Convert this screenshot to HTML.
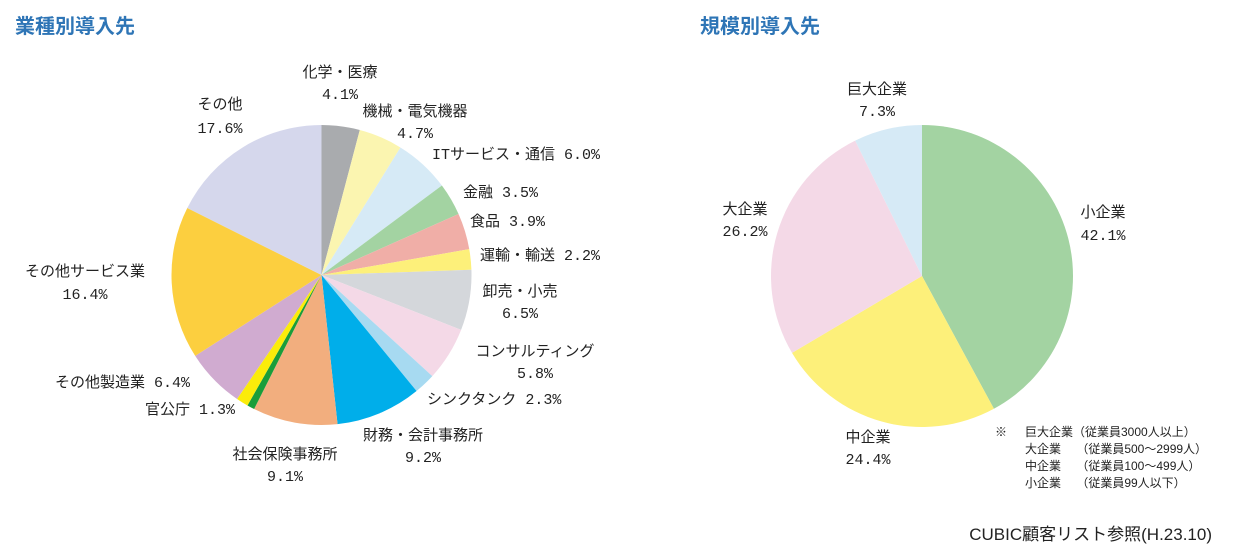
<!DOCTYPE html>
<html><head><meta charset="utf-8">
<style>
body{margin:0;background:#fff;}
svg{display:block;font-family:"Liberation Sans","Noto Sans CJK JP",sans-serif;}
.lb{font-size:15px;fill:#222;dominant-baseline:middle;font-family:"Liberation Mono","Noto Sans CJK JP",monospace;}
.tt{font-size:20px;font-weight:bold;fill:#2e75b6;}
.nt{font-size:12px;fill:#222;dominant-baseline:middle;}
</style></head>
<body>
<svg id="c" width="1240" height="553" viewBox="0 0 1240 553">
<text x="15" y="33" class="tt">業種別導入先</text>
<text x="700" y="33" class="tt">規模別導入先</text>
<g id="p1"></g>
<g id="p2"></g>
<g id="labels"></g>
<text x="995" y="433" class="nt">※</text>
<g>
<text x="1025" y="433" class="nt">巨大企業（従業員3000人以上）</text>
<text x="1025" y="450" class="nt">大企業　 （従業員500～2999人）</text>
<text x="1025" y="467" class="nt">中企業　 （従業員100～499人）</text>
<text x="1025" y="484" class="nt">小企業　 （従業員99人以下）</text>
</g>
<text x="1212" y="540" text-anchor="end" style="font-size:17px;fill:#222">CUBIC顧客リスト参照(H.23.10)</text>
</svg>
<script>
const industryCats=["化学・医療","機械・電気機器","ITサービス・通信","金融","食品","運輸・輸送","卸売・小売","コンサルティング","シンクタンク","財務・会計事務所","社会保険事務所","その他(緑)","官公庁","その他製造業","その他サービス業","その他"];
const industryVals=[4.1,4.7,6.0,3.5,3.9,2.2,6.5,5.8,2.3,9.2,9.1,0.8,1.3,6.4,16.4,17.6];
const industryColors=["#a9abae","#fbf5b0","#d6eaf6","#a3d3a2","#f0aea7","#fdf07a","#d4d7db","#f4d9e7","#a7daf1","#00aeea","#f2ae7e","#1a9d3a","#fbec0a","#d0abd0","#fccf3f","#d5d7ec"];
const sizeCats=["小企業","中企業","大企業","巨大企業"];
const sizeVals=[42.1,24.4,26.2,7.3];
const sizeColors=["#a3d3a2","#fdf07a","#f4d9e7","#d6eaf6"];
const NS="http://www.w3.org/2000/svg";
function drawPie(g,vals,cols,cats,cx,cy,r){
  const tot=vals.reduce((a,b)=>a+b,0);
  let a=0;
  vals.forEach((v,i)=>{
    const a0=a/tot*2*Math.PI, a1=(a+v)/tot*2*Math.PI; a+=v;
    const x0=cx+r*Math.sin(a0),y0=cy-r*Math.cos(a0),x1=cx+r*Math.sin(a1),y1=cy-r*Math.cos(a1);
    const p=document.createElementNS(NS,"path");
    p.setAttribute("d",`M${cx},${cy}L${x0},${y0}A${r},${r} 0 ${a1-a0>Math.PI?1:0} 1 ${x1},${y1}Z`);
    p.setAttribute("fill",cols[i]);
    
    
    g.appendChild(p);
  });
}
drawPie(document.getElementById("p1"),industryVals,industryColors,industryCats,321.5,275,150);
drawPie(document.getElementById("p2"),sizeVals,sizeColors,sizeCats,922,276,151);
const L=document.getElementById("labels");
function lab(t,x,y,anchor){
  const e=document.createElementNS(NS,"text");
  e.setAttribute("x",x);e.setAttribute("y",y);e.setAttribute("class","lb");
  e.setAttribute("text-anchor",anchor||"middle");
  e.textContent=t;
  
  
  L.appendChild(e);
}
const f=v=>v.toFixed(1)+"%";
const iv=industryVals;
lab("その他",220,105);lab(f(iv[15]),220,129);
lab("化学・医療",340,73);lab(f(iv[0]),340,95);
lab("機械・電気機器",415,112);lab(f(iv[1]),415,134);
lab("ITサービス・通信 "+f(iv[2]),432,155,"start");
lab("金融 "+f(iv[3]),463,193,"start");
lab("食品 "+f(iv[4]),470,222,"start");
lab("運輸・輸送 "+f(iv[5]),480,256,"start");
lab("卸売・小売",520,292);lab(f(iv[6]),520,314);
lab("コンサルティング",535,352);lab(f(iv[7]),535,374);
lab("シンクタンク "+f(iv[8]),427,400,"start");
lab("財務・会計事務所",423,436);lab(f(iv[9]),423,458);
lab("社会保険事務所",285,455);lab(f(iv[10]),285,477);
lab("官公庁 "+f(iv[12]),145,410,"start");
lab("その他製造業 "+f(iv[13]),55,383,"start");
lab("その他サービス業",85,272);lab(f(iv[14]),85,295);
const sv=sizeVals;
lab("巨大企業",877,90);lab(f(sv[3]),877,112);
lab("大企業",745,210);lab(f(sv[2]),745,232);
lab("小企業",1103,213);lab(f(sv[0]),1103,236);
lab("中企業",868,438);lab(f(sv[1]),868,460);
</script>
</body></html>
